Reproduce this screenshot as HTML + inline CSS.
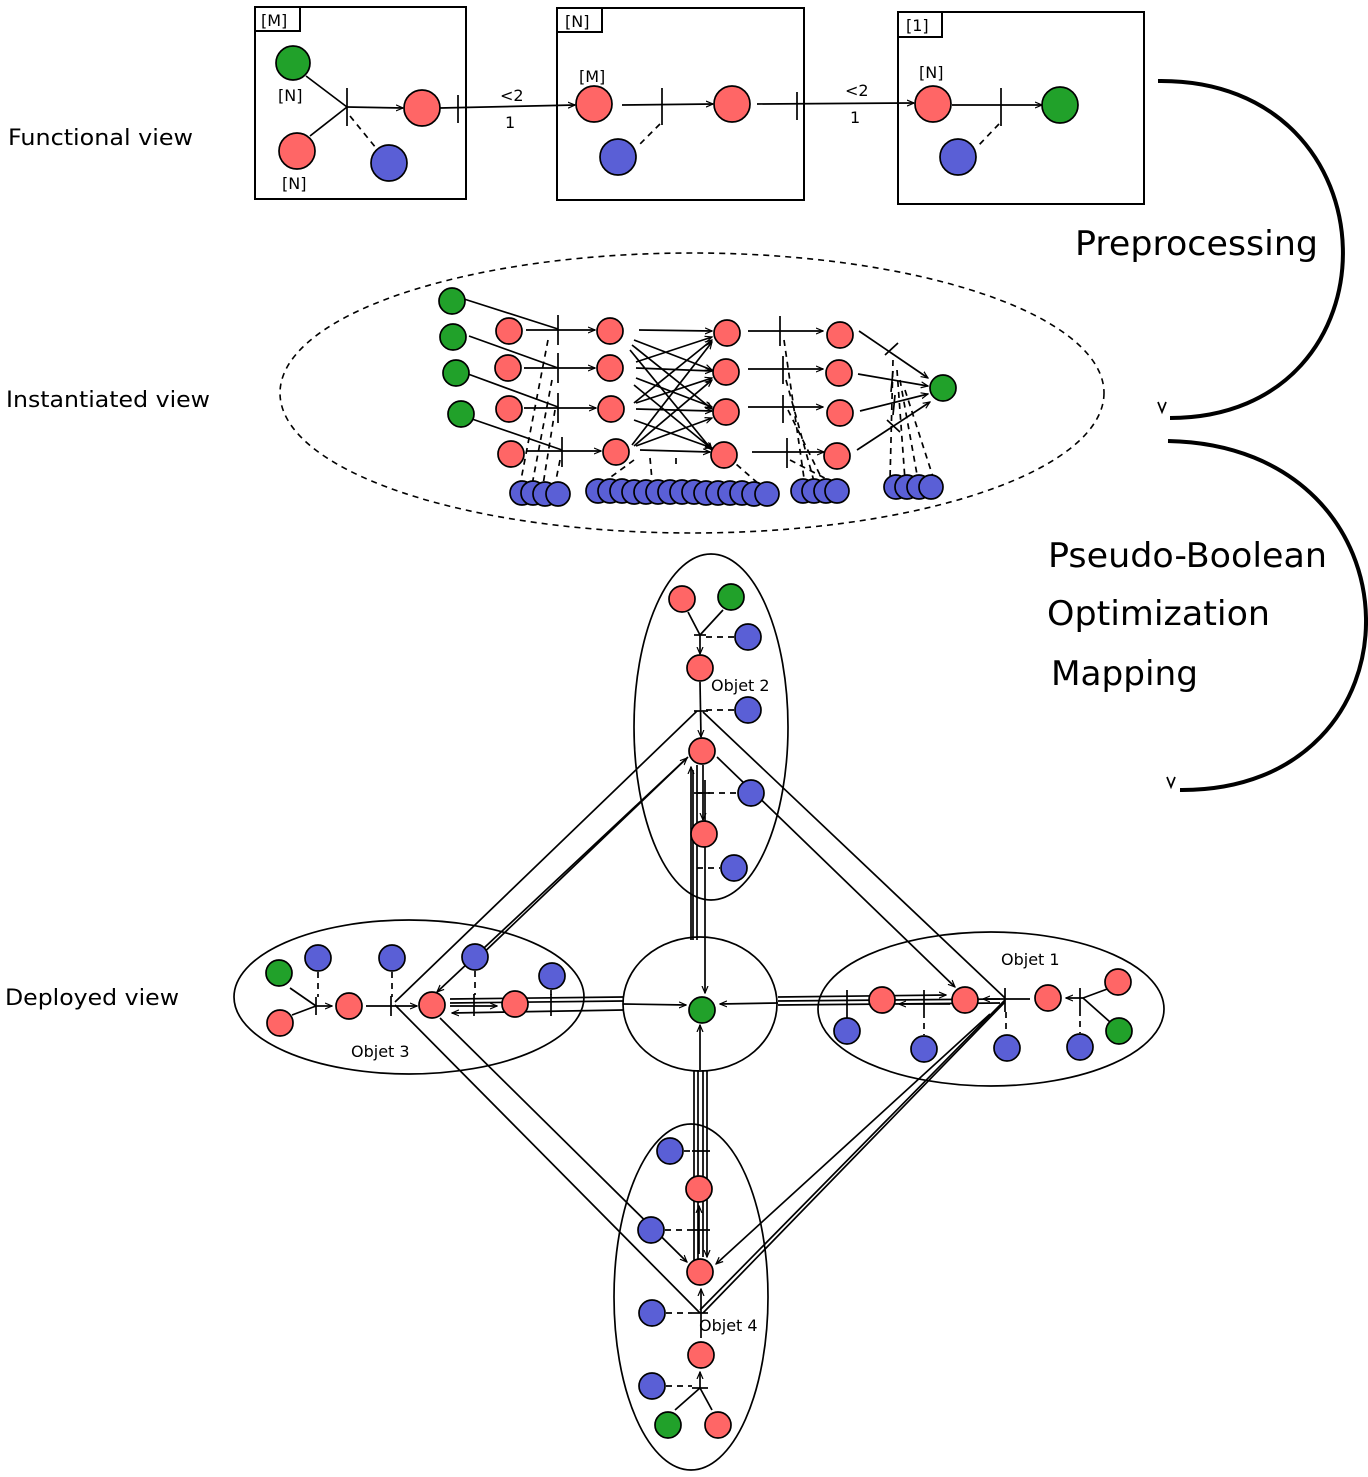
<!DOCTYPE html>
<html><head><meta charset="utf-8"><style>
html,body{margin:0;padding:0;background:#fff}
svg{display:block}
.r{fill:#ff6666;stroke:#000;stroke-width:1.7}
.g{fill:#21a12a;stroke:#000;stroke-width:1.7}
.b{fill:#5a5fd6;stroke:#000;stroke-width:1.7}
.l{stroke:#000;stroke-width:1.7;fill:none}
.d{stroke:#000;stroke-width:1.7;fill:none;stroke-dasharray:6,5}
text{font-family:"DejaVu Sans","Liberation Sans",sans-serif;fill:#000}
</style></head><body>
<svg width="1368" height="1477" viewBox="0 0 1368 1477" xmlns="http://www.w3.org/2000/svg">
<defs><marker id="a" markerWidth="8" markerHeight="8" refX="7" refY="4" orient="auto" markerUnits="userSpaceOnUse"><path d="M0,1 L7,4 L0,7" fill="none" stroke="#000" stroke-width="1.2"/></marker></defs>

<!-- left labels -->
<text x="8" y="145" font-size="22" textLength="185" lengthAdjust="spacingAndGlyphs">Functional view</text>
<text x="6" y="407" font-size="22" textLength="204" lengthAdjust="spacingAndGlyphs">Instantiated view</text>
<text x="5" y="1005" font-size="22" textLength="174" lengthAdjust="spacingAndGlyphs">Deployed view</text>

<!-- right arcs -->
<path class="l" style="stroke-width:4" d="M1158,81 C1400,78 1405,418 1170,418"/>
<path d="M1158,402 L1162,412 L1166,402" class="l"/>
<path class="l" style="stroke-width:4" d="M1168,441 C1430,446 1430,792 1180,790"/>
<path d="M1167,777 L1171,787 L1175,777" class="l"/>
<text x="1075" y="255" font-size="34" textLength="243" lengthAdjust="spacingAndGlyphs">Preprocessing</text>
<text x="1048" y="567" font-size="34" textLength="279" lengthAdjust="spacingAndGlyphs">Pseudo-Boolean</text>
<text x="1047" y="625" font-size="34" textLength="223" lengthAdjust="spacingAndGlyphs">Optimization</text>
<text x="1051" y="685" font-size="34" textLength="147" lengthAdjust="spacingAndGlyphs">Mapping</text>

<!-- Functional view -->
<rect x="255" y="7" width="211" height="192" class="l" style="stroke-width:2"/>
<rect x="255" y="7" width="45" height="24" class="l" style="stroke-width:2"/>
<text x="261" y="26" font-size="16">[M]</text>
<rect x="557" y="8" width="247" height="192" class="l" style="stroke-width:2"/>
<rect x="557" y="8" width="45" height="24" class="l" style="stroke-width:2"/>
<text x="565" y="27" font-size="16">[N]</text>
<rect x="898" y="12" width="246" height="192" class="l" style="stroke-width:2"/>
<rect x="898" y="12" width="44" height="25" class="l" style="stroke-width:2"/>
<text x="906" y="31" font-size="16">[1]</text>

<line class="l" x1="306" y1="76" x2="347" y2="107"/>
<line class="l" x1="310" y1="136" x2="347" y2="107"/>
<line class="l" x1="347" y1="107" x2="403" y2="108" marker-end="url(#a)"/>
<line class="l" x1="347" y1="88" x2="347" y2="126"/>
<line class="d" x1="350" y1="116" x2="376" y2="148"/>
<line class="l" x1="440" y1="108" x2="575" y2="105" marker-end="url(#a)"/>
<line class="l" x1="458" y1="95" x2="458" y2="123"/>
<text x="500" y="101" font-size="16">&lt;2</text>
<text x="505" y="128" font-size="16">1</text>
<text x="278" y="101" font-size="16">[N]</text>
<text x="282" y="189" font-size="16">[N]</text>
<circle class="g" cx="293" cy="63" r="17"/>
<circle class="r" cx="297" cy="151" r="18"/>
<circle class="b" cx="389" cy="163" r="18"/>
<circle class="r" cx="422" cy="108" r="18"/>

<line class="l" x1="622" y1="105" x2="713" y2="104" marker-end="url(#a)"/>
<line class="l" x1="662" y1="88" x2="662" y2="125"/>
<line class="d" x1="660" y1="124" x2="638" y2="146"/>
<line class="l" x1="757" y1="104" x2="914" y2="103" marker-end="url(#a)"/>
<line class="l" x1="797" y1="92" x2="797" y2="120"/>
<text x="845" y="96" font-size="16">&lt;2</text>
<text x="850" y="123" font-size="16">1</text>
<text x="579" y="82" font-size="16">[M]</text>
<circle class="r" cx="594" cy="104" r="18"/>
<circle class="r" cx="732" cy="104" r="18"/>
<circle class="b" cx="618" cy="157" r="18"/>

<line class="l" x1="952" y1="105" x2="1042" y2="105" marker-end="url(#a)"/>
<line class="l" x1="1001" y1="88" x2="1001" y2="126"/>
<line class="d" x1="999" y1="124" x2="978" y2="146"/>
<text x="919" y="78" font-size="16">[N]</text>
<circle class="r" cx="933" cy="104" r="18"/>
<circle class="g" cx="1060" cy="105" r="18"/>
<circle class="b" cx="958" cy="157" r="18"/>

<!-- Instantiated view -->
<ellipse cx="692" cy="393" rx="412" ry="140" class="d" style="stroke-width:1.6"/>
<g class="l">
<line x1="464" y1="299" x2="558" y2="329"/><line x1="469" y1="336" x2="558" y2="368"/>
<line x1="468" y1="374" x2="558" y2="407"/><line x1="472" y1="419" x2="562" y2="450"/>
<line x1="526" y1="330" x2="595" y2="330" marker-end="url(#a)"/>
<line x1="524" y1="368" x2="595" y2="368" marker-end="url(#a)"/>
<line x1="524" y1="408" x2="596" y2="408" marker-end="url(#a)"/>
<line x1="527" y1="451" x2="601" y2="451" marker-end="url(#a)"/>
<line x1="558" y1="315" x2="558" y2="345"/><line x1="558" y1="353" x2="558" y2="383"/>
<line x1="558" y1="393" x2="558" y2="423"/><line x1="562" y1="437" x2="562" y2="467"/>
<line x1="639" y1="330" x2="712" y2="331" marker-end="url(#a)"/>
<line x1="636" y1="368" x2="712" y2="371" marker-end="url(#a)"/>
<line x1="636" y1="409" x2="712" y2="411" marker-end="url(#a)"/>
<line x1="640" y1="450" x2="710" y2="452" marker-end="url(#a)"/>
<line x1="634" y1="340" x2="712" y2="370" marker-end="url(#a)"/>
<line x1="632" y1="345" x2="712" y2="409" marker-end="url(#a)"/>
<line x1="630" y1="350" x2="712" y2="450" marker-end="url(#a)"/>
<line x1="636" y1="362" x2="712" y2="337" marker-end="url(#a)"/>
<line x1="636" y1="378" x2="712" y2="407" marker-end="url(#a)"/>
<line x1="634" y1="385" x2="712" y2="449" marker-end="url(#a)"/>
<line x1="634" y1="403" x2="712" y2="340" marker-end="url(#a)"/>
<line x1="636" y1="403" x2="712" y2="378" marker-end="url(#a)"/>
<line x1="634" y1="420" x2="712" y2="448" marker-end="url(#a)"/>
<line x1="632" y1="445" x2="712" y2="342" marker-end="url(#a)"/>
<line x1="634" y1="446" x2="712" y2="380" marker-end="url(#a)"/>
<line x1="636" y1="446" x2="712" y2="418" marker-end="url(#a)"/>
<line x1="748" y1="331" x2="823" y2="331" marker-end="url(#a)"/>
<line x1="748" y1="369" x2="823" y2="369" marker-end="url(#a)"/>
<line x1="748" y1="407" x2="823" y2="407" marker-end="url(#a)"/>
<line x1="752" y1="452" x2="824" y2="452" marker-end="url(#a)"/>
<line x1="780" y1="316" x2="780" y2="346"/><line x1="783" y1="356" x2="783" y2="384"/>
<line x1="783" y1="395" x2="783" y2="423"/><line x1="787" y1="438" x2="787" y2="468"/>
<line x1="859" y1="331" x2="928" y2="378" marker-end="url(#a)"/>
<line x1="858" y1="374" x2="928" y2="386" marker-end="url(#a)"/>
<line x1="860" y1="411" x2="928" y2="394" marker-end="url(#a)"/>
<line x1="857" y1="450" x2="930" y2="402" marker-end="url(#a)"/>
<line x1="885" y1="355" x2="898" y2="343"/><line x1="893" y1="371" x2="891" y2="392"/>
<line x1="895" y1="395" x2="893" y2="415"/><line x1="887" y1="420" x2="900" y2="432"/>
</g>
<g class="d">
<line x1="548" y1="340" x2="520" y2="485"/><line x1="552" y1="380" x2="532" y2="485"/>
<line x1="555" y1="410" x2="543" y2="485"/><line x1="560" y1="460" x2="555" y2="485"/>
<line x1="634" y1="460" x2="600" y2="485"/><line x1="650" y1="458" x2="652" y2="480"/>
<line x1="676" y1="458" x2="676" y2="468"/><line x1="720" y1="450" x2="760" y2="485"/>
<line x1="784" y1="340" x2="805" y2="485"/><line x1="786" y1="380" x2="815" y2="485"/>
<line x1="788" y1="410" x2="825" y2="485"/><line x1="790" y1="460" x2="838" y2="485"/>
<line x1="893" y1="360" x2="890" y2="480"/><line x1="897" y1="370" x2="905" y2="480"/>
<line x1="900" y1="380" x2="918" y2="480"/><line x1="905" y1="390" x2="934" y2="480"/>
</g>
<g>
<circle class="g" cx="452" cy="301" r="13"/><circle class="g" cx="453" cy="337" r="13"/>
<circle class="g" cx="456" cy="373" r="13"/><circle class="g" cx="461" cy="414" r="13"/>
<circle class="r" cx="509" cy="331" r="13"/><circle class="r" cx="508" cy="368" r="13"/>
<circle class="r" cx="509" cy="409" r="13"/><circle class="r" cx="511" cy="454" r="13"/>
<circle class="r" cx="610" cy="331" r="13"/><circle class="r" cx="610" cy="368" r="13"/>
<circle class="r" cx="611" cy="409" r="13"/><circle class="r" cx="616" cy="452" r="13"/>
<circle class="r" cx="727" cy="333" r="13"/><circle class="r" cx="726" cy="372" r="13"/>
<circle class="r" cx="726" cy="412" r="13"/><circle class="r" cx="724" cy="455" r="13"/>
<circle class="r" cx="840" cy="335" r="13"/><circle class="r" cx="839" cy="373" r="13"/>
<circle class="r" cx="840" cy="413" r="13"/><circle class="r" cx="837" cy="456" r="13"/>
<circle class="g" cx="943" cy="388" r="13"/>
<circle class="b" cx="522" cy="493" r="12"/><circle class="b" cx="533" cy="493" r="12"/>
<circle class="b" cx="545" cy="494" r="12"/><circle class="b" cx="558" cy="494" r="12"/>
<circle class="b" cx="598" cy="491" r="12"/><circle class="b" cx="610" cy="491" r="12"/>
<circle class="b" cx="622" cy="491" r="12"/><circle class="b" cx="634" cy="492" r="12"/>
<circle class="b" cx="646" cy="492" r="12"/><circle class="b" cx="658" cy="492" r="12"/>
<circle class="b" cx="670" cy="492" r="12"/><circle class="b" cx="682" cy="492" r="12"/>
<circle class="b" cx="694" cy="492" r="12"/><circle class="b" cx="706" cy="493" r="12"/>
<circle class="b" cx="718" cy="493" r="12"/><circle class="b" cx="730" cy="493" r="12"/>
<circle class="b" cx="742" cy="493" r="12"/><circle class="b" cx="754" cy="494" r="12"/>
<circle class="b" cx="767" cy="494" r="12"/>
<circle class="b" cx="803" cy="491" r="12"/><circle class="b" cx="814" cy="491" r="12"/>
<circle class="b" cx="826" cy="491" r="12"/><circle class="b" cx="837" cy="491" r="12"/>
<circle class="b" cx="896" cy="487" r="12"/><circle class="b" cx="907" cy="487" r="12"/>
<circle class="b" cx="919" cy="487" r="12"/><circle class="b" cx="931" cy="487" r="12"/>
</g>

<!-- Deployed view -->
<g class="l">
<ellipse cx="711" cy="727" rx="77" ry="173"/>
<ellipse cx="409" cy="997" rx="175" ry="77"/>
<ellipse cx="991" cy="1009" rx="173" ry="77"/>
<ellipse cx="691" cy="1297" rx="77" ry="173"/>
<ellipse cx="700" cy="1004" rx="77" ry="67" fill="#fff"/>
</g>
<g class="l">
<line x1="688" y1="612" x2="700" y2="635"/><line x1="723" y1="610" x2="700" y2="635"/>
<line x1="700" y1="635" x2="700" y2="654" marker-end="url(#a)"/>
<line x1="694" y1="635" x2="706" y2="635"/>
<line x1="700" y1="682" x2="701" y2="737" marker-end="url(#a)"/>
<line x1="694" y1="711" x2="708" y2="711"/>
<line x1="703" y1="765" x2="703" y2="820" marker-end="url(#a)"/>
<line x1="697" y1="711" x2="395" y2="1002"/>
<line x1="703" y1="712" x2="1005" y2="998"/>
<line x1="700" y1="1313" x2="395" y2="1005"/>
<line x1="703" y1="1313" x2="1005" y2="1002"/>
<line x1="1005" y1="1000" x2="700" y2="1310"/>
<line x1="688" y1="757" x2="437" y2="992" marker-end="url(#a)"/>
<line x1="440" y1="1018" x2="687" y2="1262" marker-end="url(#a)"/>
<line x1="990" y1="1014" x2="716" y2="1264" marker-end="url(#a)"/>
<line x1="476" y1="960" x2="687" y2="758" marker-end="url(#a)"/>
<line x1="717" y1="757" x2="955" y2="987" marker-end="url(#a)"/>
<line x1="693" y1="770" x2="693" y2="940"/>
<line x1="697" y1="765" x2="697" y2="940"/>
<line x1="705" y1="780" x2="705" y2="993" marker-end="url(#a)"/>
<line x1="691" y1="940" x2="691" y2="767" marker-end="url(#a)"/>
<line x1="700" y1="1070" x2="700" y2="1025" marker-end="url(#a)"/>
<line x1="694" y1="1070" x2="694" y2="1260"/>
<line x1="698" y1="1070" x2="698" y2="1260"/>
<line x1="703" y1="1070" x2="703" y2="1257"/>
<line x1="707" y1="1070" x2="707" y2="1257" marker-end="url(#a)"/>
<line x1="450" y1="999" x2="623" y2="997"/>
<line x1="450" y1="1003" x2="623" y2="1001"/>
<line x1="623" y1="1004" x2="686" y2="1005" marker-end="url(#a)"/>
<line x1="623" y1="1010" x2="452" y2="1013" marker-end="url(#a)"/>
<line x1="366" y1="1006" x2="417" y2="1006" marker-end="url(#a)"/>
<line x1="450" y1="1006" x2="497" y2="1006" marker-end="url(#a)"/>
<line x1="778" y1="997" x2="946" y2="995" marker-end="url(#a)"/>
<line x1="778" y1="1001" x2="1000" y2="999"/>
<line x1="778" y1="1005" x2="1000" y2="1003"/>
<line x1="778" y1="1003" x2="720" y2="1004" marker-end="url(#a)"/>
<line x1="950" y1="1004" x2="899" y2="1004" marker-end="url(#a)"/>
<line x1="1030" y1="999" x2="983" y2="999" marker-end="url(#a)"/>
<line x1="1110" y1="988" x2="1083" y2="998"/><line x1="1110" y1="1022" x2="1083" y2="998"/>
<line x1="1083" y1="998" x2="1066" y2="998" marker-end="url(#a)"/>
<line x1="290" y1="988" x2="316" y2="1006"/><line x1="292" y1="1015" x2="316" y2="1006"/>
<line x1="316" y1="1006" x2="332" y2="1006" marker-end="url(#a)"/>
<line x1="675" y1="1410" x2="700" y2="1388"/><line x1="712" y1="1410" x2="700" y2="1388"/>
<line x1="700" y1="1388" x2="700" y2="1372" marker-end="url(#a)"/>
<line x1="701" y1="1338" x2="701" y2="1289" marker-end="url(#a)"/>
<line x1="699" y1="1254" x2="699" y2="1206" marker-end="url(#a)"/>
</g>
<g class="l">
<line x1="316" y1="997" x2="316" y2="1015"/><line x1="391" y1="996" x2="391" y2="1016"/>
<line x1="474" y1="994" x2="474" y2="1016"/><line x1="551" y1="994" x2="551" y2="1016"/>
<line x1="847" y1="990" x2="847" y2="1012"/><line x1="924" y1="990" x2="924" y2="1012"/>
<line x1="1005" y1="988" x2="1005" y2="1012"/><line x1="1080" y1="988" x2="1080" y2="1010"/>
<line x1="692" y1="1151" x2="710" y2="1151"/><line x1="692" y1="1230" x2="710" y2="1230"/>
<line x1="692" y1="1313" x2="708" y2="1313"/><line x1="692" y1="1388" x2="708" y2="1388"/>
<line x1="694" y1="793" x2="710" y2="793"/>
</g>
<g class="d">
<line x1="706" y1="637" x2="734" y2="637"/><line x1="706" y1="710" x2="734" y2="710"/>
<line x1="697" y1="793" x2="737" y2="793"/><line x1="697" y1="868" x2="720" y2="868"/>
<line x1="318" y1="972" x2="318" y2="997"/><line x1="392" y1="972" x2="392" y2="997"/>
<line x1="475" y1="971" x2="475" y2="995"/><line x1="551" y1="990" x2="551" y2="995"/>
<line x1="847" y1="1012" x2="847" y2="1018"/><line x1="924" y1="1012" x2="924" y2="1035"/>
<line x1="1006" y1="1012" x2="1006" y2="1034"/><line x1="1080" y1="1010" x2="1080" y2="1033"/>
<line x1="684" y1="1151" x2="692" y2="1151"/><line x1="665" y1="1230" x2="692" y2="1230"/>
<line x1="666" y1="1313" x2="692" y2="1313"/><line x1="666" y1="1386" x2="692" y2="1386"/>
</g>
<g>
<circle class="r" cx="682" cy="599" r="13"/><circle class="g" cx="731" cy="597" r="13"/>
<circle class="b" cx="748" cy="637" r="13"/><circle class="r" cx="700" cy="668" r="13"/>
<circle class="b" cx="748" cy="710" r="13"/><circle class="r" cx="702" cy="751" r="13"/>
<circle class="b" cx="751" cy="793" r="13"/><circle class="r" cx="704" cy="834" r="13"/>
<circle class="b" cx="734" cy="868" r="13"/>
<circle class="g" cx="279" cy="973" r="13"/><circle class="r" cx="280" cy="1023" r="13"/>
<circle class="b" cx="318" cy="958" r="13"/><circle class="r" cx="349" cy="1006" r="13"/>
<circle class="b" cx="392" cy="958" r="13"/><circle class="b" cx="475" cy="957" r="13"/>
<circle class="r" cx="432" cy="1005" r="13"/><circle class="r" cx="515" cy="1004" r="13"/>
<circle class="b" cx="552" cy="976" r="13"/>
<circle class="g" cx="702" cy="1010" r="13"/>
<circle class="r" cx="882" cy="1000" r="13"/><circle class="r" cx="965" cy="1000" r="13"/>
<circle class="r" cx="1048" cy="998" r="13"/><circle class="r" cx="1118" cy="982" r="13"/>
<circle class="g" cx="1119" cy="1031" r="13"/>
<circle class="b" cx="847" cy="1031" r="13"/><circle class="b" cx="924" cy="1049" r="13"/>
<circle class="b" cx="1007" cy="1048" r="13"/><circle class="b" cx="1080" cy="1047" r="13"/>
<circle class="b" cx="670" cy="1151" r="13"/><circle class="r" cx="699" cy="1189" r="13"/>
<circle class="b" cx="651" cy="1230" r="13"/><circle class="r" cx="700" cy="1272" r="13"/>
<circle class="b" cx="652" cy="1313" r="13"/><circle class="r" cx="701" cy="1355" r="13"/>
<circle class="b" cx="652" cy="1386" r="13"/><circle class="g" cx="668" cy="1425" r="13"/>
<circle class="r" cx="718" cy="1425" r="13"/>
</g>
<text x="711" y="691" font-size="16">Objet 2</text>
<text x="351" y="1057" font-size="16">Objet 3</text>
<text x="1001" y="965" font-size="16">Objet 1</text>
<text x="699" y="1331" font-size="16">Objet 4</text>
</svg>
</body></html>
